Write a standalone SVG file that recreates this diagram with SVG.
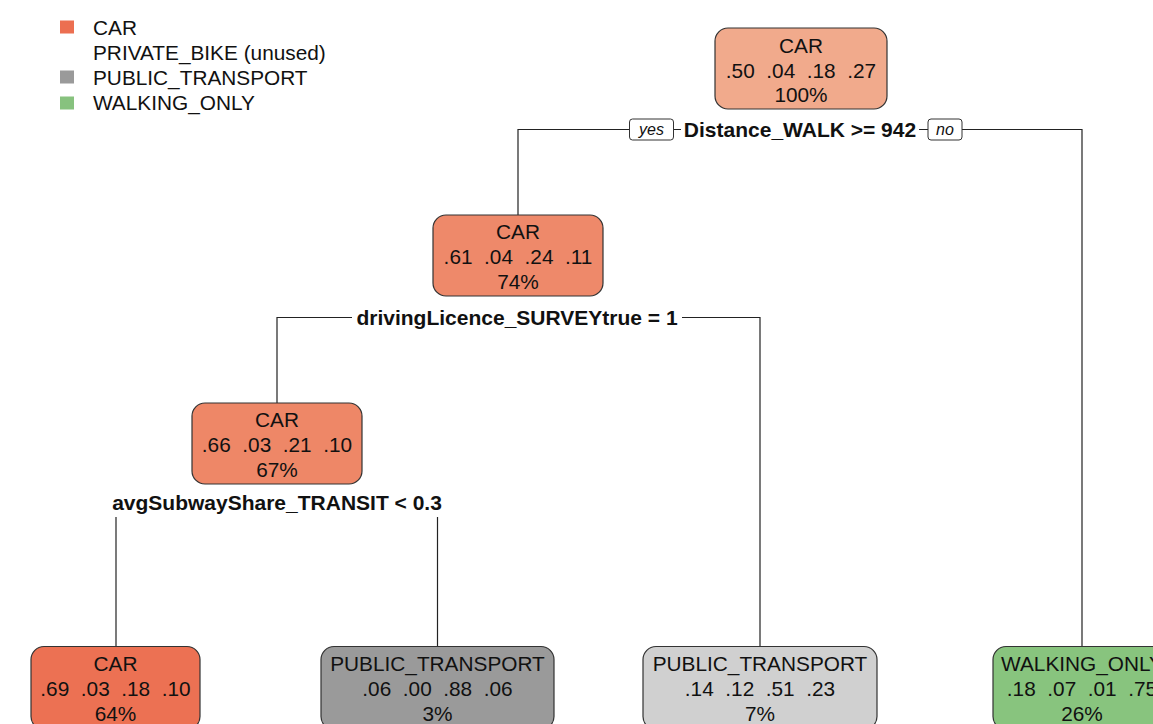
<svg xmlns="http://www.w3.org/2000/svg" width="1153" height="724" viewBox="0 0 1153 724">
  <style>
    text { font-family: "Liberation Sans", Arial, Helvetica, sans-serif; fill: #111; white-space: pre; }
    .lbl { font-size: 20.8px; text-anchor: middle; }
    .leg { font-size: 20.8px; }
    .split { font-size: 21px; font-weight: bold; text-anchor: middle; }
    .yn { font-size: 16px; font-style: italic; text-anchor: middle; }
    .box { stroke: #333; stroke-width: 1.2; }
    .ynbox { fill: #fff; stroke: #333; stroke-width: 1; }
    .edge { fill: none; stroke: #222; stroke-width: 1.2; }
    .mask { fill: #fff; }
  </style>

  <rect width="1153" height="724" fill="#fff"/>

  <!-- legend -->
  <g id="legend">
    <rect x="60" y="20.5" width="14" height="13" fill="#EC6F51"/>
    <text class="leg" x="93" y="34.5">CAR</text>
    <text class="leg" x="93" y="59.5">PRIVATE_BIKE (unused)</text>
    <rect x="60" y="70.5" width="14" height="13" fill="#9A9A9A"/>
    <text class="leg" x="93" y="84.5">PUBLIC_TRANSPORT</text>
    <rect x="60" y="96.5" width="14" height="13" fill="#87C27E"/>
    <text class="leg" x="93" y="109.5">WALKING_ONLY</text>
  </g>

  <!-- connectors -->
  <g id="edges">
    <path class="edge" d="M518,215 V129.5 H1082 V646"/>
    <path class="edge" d="M277,403 V317.5 H760 V646"/>
    <path class="edge" d="M116,517 V646"/>
    <path class="edge" d="M437.5,517 V646"/>
  </g>

  <!-- split labels -->
  <g id="split-root">
    <rect class="mask" x="681" y="119" width="238" height="21"/>
    <text class="split" x="800" y="137">Distance_WALK &gt;= 942</text>
    <rect class="ynbox" x="629.5" y="119" width="44" height="21" rx="3"/>
    <text class="yn" x="651.5" y="135">yes</text>
    <rect class="ynbox" x="928" y="119" width="34" height="21" rx="3"/>
    <text class="yn" x="945" y="135">no</text>
  </g>
  <g id="split-licence">
    <rect class="mask" x="352" y="307" width="330" height="21"/>
    <text class="split" x="517" y="324.5">drivingLicence_SURVEYtrue = 1</text>
  </g>
  <g id="split-subway">
    <text class="split" x="277" y="510">avgSubwayShare_TRANSIT &lt; 0.3</text>
  </g>

  <!-- nodes -->
  <g id="node-root">
    <rect class="box" x="715" y="28" width="172" height="81" rx="13" fill="#F1AA8C"/>
    <text class="lbl" x="801" y="52.5">CAR</text>
    <text class="lbl" x="801" y="77.5">.50  .04  .18  .27</text>
    <text class="lbl" x="801" y="102">100%</text>
  </g>
  <g id="node-licence">
    <rect class="box" x="433" y="215" width="170" height="81" rx="13" fill="#EE896A"/>
    <text class="lbl" x="518" y="239">CAR</text>
    <text class="lbl" x="518" y="264">.61  .04  .24  .11</text>
    <text class="lbl" x="518" y="289">74%</text>
  </g>
  <g id="node-subway">
    <rect class="box" x="192" y="403" width="170" height="81" rx="13" fill="#EE8767"/>
    <text class="lbl" x="277" y="427">CAR</text>
    <text class="lbl" x="277" y="452">.66  .03  .21  .10</text>
    <text class="lbl" x="277" y="477">67%</text>
  </g>
  <g id="leaf-car">
    <rect class="box" x="31" y="646.5" width="169" height="83" rx="13" fill="#EC7153"/>
    <text class="lbl" x="115.5" y="670.5">CAR</text>
    <text class="lbl" x="115.5" y="695.5">.69  .03  .18  .10</text>
    <text class="lbl" x="115.5" y="720.5">64%</text>
  </g>
  <g id="leaf-transit-subway">
    <rect class="box" x="321" y="646.5" width="233" height="83" rx="13" fill="#9A9A9A"/>
    <text class="lbl" x="437.5" y="670.5">PUBLIC_TRANSPORT</text>
    <text class="lbl" x="437.5" y="695.5">.06  .00  .88  .06</text>
    <text class="lbl" x="437.5" y="720.5">3%</text>
  </g>
  <g id="leaf-transit-nolicence">
    <rect class="box" x="643" y="646.5" width="234" height="83" rx="13" fill="#D0D0D0"/>
    <text class="lbl" x="760" y="670.5">PUBLIC_TRANSPORT</text>
    <text class="lbl" x="760" y="695.5">.14  .12  .51  .23</text>
    <text class="lbl" x="760" y="720.5">7%</text>
  </g>
  <g id="leaf-walking">
    <rect class="box" x="993" y="646.5" width="178" height="83" rx="13" fill="#88C47E"/>
    <text class="lbl" x="1082" y="670.5">WALKING_ONLY</text>
    <text class="lbl" x="1082" y="695.5">.18  .07  .01  .75</text>
    <text class="lbl" x="1082" y="720.5">26%</text>
  </g>
</svg>
